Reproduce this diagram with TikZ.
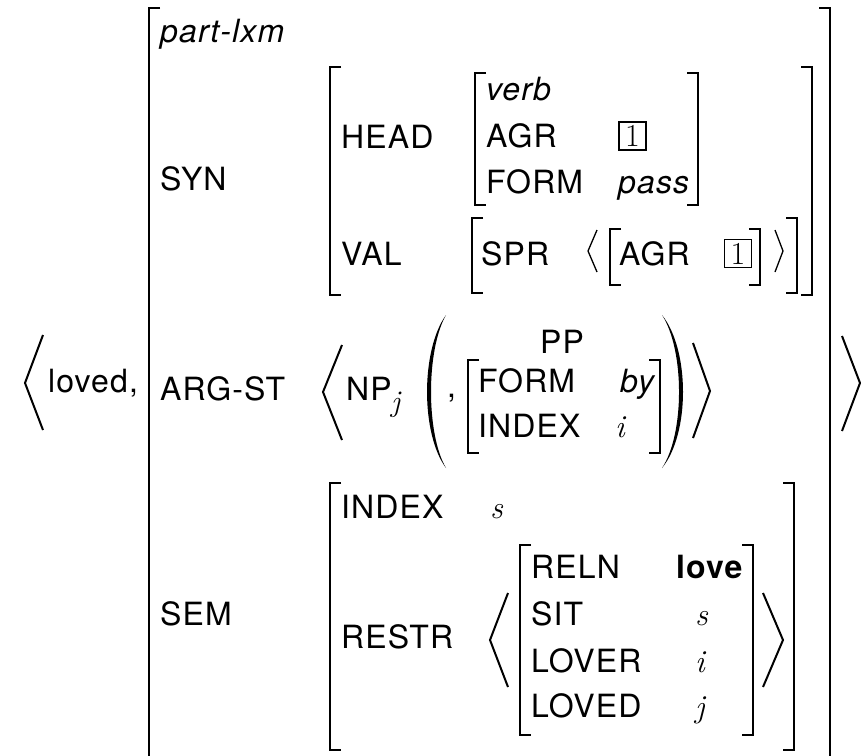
\documentclass[tikz,border=0pt]{standalone}
\usepackage{fontspec}
\setmainfont{TeX Gyre Heros}[LetterSpace=3.5]
\newfontfamily\lmrm{Latin Modern Roman}
\newcommand\mvar[1]{{\lmrm\itshape #1}}
\newcommand\avmL[4][2pt]{\draw[line width=#1] (#2+11,#3) -- (#2,#3) -- (#2,#4) -- (#2+11,#4);}
\newcommand\avmR[4][2pt]{\draw[line width=#1] (#2-11,#3) -- (#2,#3) -- (#2,#4) -- (#2-11,#4);}
\tikzset{
  lbl/.style={anchor=base west, inner sep=0pt, font=\fontsize{32}{38}\selectfont},
  ang/.style={line width=2pt, line join=miter},
  sang/.style={line width=1.3pt, line join=miter},
  tagbox/.style={draw, line width=1.5pt, inner sep=0pt, minimum width=27pt, minimum height=28pt, font=\fontsize{32}{38}\selectfont\lmrm},
}
\begin{document}
\begin{tikzpicture}[x=1pt,y=-1pt]
\useasboundingbox (0,0) rectangle (861,755);
\clip (0,0) rectangle (861,755);
% outer angle brackets
\draw[ang] (43,335) -- (25,383) -- (43,430);
\draw[ang] (842,336) -- (860,383) -- (842,431);
\node[lbl] (loved) at (48,392) {loved,};
% outer brackets
\draw[line width=2.6pt] (160,8) -- (149,8) -- (149,760);
\draw[line width=2.6pt] (819,8) -- (830,8) -- (830,760);
\node[lbl] (type) at (160,42) {\itshape part-lxm};
% SYN
\node[lbl] (syn) at (160,190) {SYN};
\avmL{330}{67}{295}
\avmR{812}{67}{295}
\node[lbl] (head) at (341,148) {HEAD};
\avmL{475}{73}{205}
\avmR{698}{73}{205}
\node[lbl] (verb) at (486,100) {\itshape verb};
\node[lbl] (agr1) at (486,147) {AGR};
\node[tagbox] (tag1) at (632.5,136) {1};
\node[lbl] (form1) at (486,193) {FORM};
\node[lbl] (pass) at (618,193) {\itshape pass};
\node[lbl] (val) at (341,265) {VAL};
\avmL{472}{218}{293}
\avmR{797}{218}{293}
\node[lbl] (spr) at (481,265) {SPR};
\draw[sang] (597,230) -- (588,251) -- (597,272);
\avmL[1.4pt]{610}{229}{285}
\avmR[1.4pt]{760}{229}{285}
\node[lbl] (agr2) at (619,265) {AGR};
\node[tagbox] (tag2) at (738,253.5) {1};
\draw[sang] (775,230) -- (783,251) -- (775,272);
% ARG-ST
\node[lbl] (argst) at (160,400) {ARG-ST};
\draw[ang] (342,345) -- (323,392) -- (342,440);
\node[lbl] (np) at (346,400) {NP};
\node[lbl, font=\fontsize{30}{36}\selectfont] (npj) at (391,411) {\mvar{j}};
\fill (446,315) .. controls (420.7,350) and (420.7,434) .. (446,468) .. controls (426,434) and (426,350) .. (446,315) -- cycle;
\node[lbl] (comma) at (447,397) {,};
\node[lbl] (pp) at (540,353) {PP};
\avmL{468}{360}{453}
\avmR{660}{360}{453}
\node[lbl] (form2) at (478,392) {FORM};
\node[lbl] (by) at (620,392) {\itshape by};
\node[lbl] (index1) at (478,437) {INDEX};
\node[lbl] (i1) at (615,437) {\mvar{i}};
\fill (662,315) .. controls (690,350) and (690,434) .. (662,468) .. controls (684.7,434) and (684.7,350) .. (662,315) -- cycle;
\draw[ang] (693,343) -- (710,391) -- (693,438);
% SEM
\node[lbl] (sem) at (160,625) {SEM};
\avmL{330}{483}{750}
\avmR{794}{483}{750}
\node[lbl] (index2) at (341,518) {INDEX};
\node[lbl] (s1) at (490,518) {\mvar{s}};
\node[lbl] (restr) at (341,648) {RESTR};
\draw[ang] (508,593) -- (490,640) -- (508,687);
\avmL{520}{545}{735}
\avmR{753}{545}{735}
\node[lbl] (reln) at (531,578) {RELN};
\node[lbl] (love) at (676,578) {\bfseries love};
\node[lbl] (sit) at (531,625) {SIT};
\node[lbl] (s2) at (695,625) {\mvar{s}};
\node[lbl] (lover) at (531,672) {LOVER};
\node[lbl] (i2) at (695,672) {\mvar{i}};
\node[lbl] (loved2) at (531,717) {LOVED};
\node[lbl] (j1) at (695,717) {\mvar{j}};
\draw[ang] (763,593) -- (783,640) -- (763,687);
\end{tikzpicture}
\end{document}
